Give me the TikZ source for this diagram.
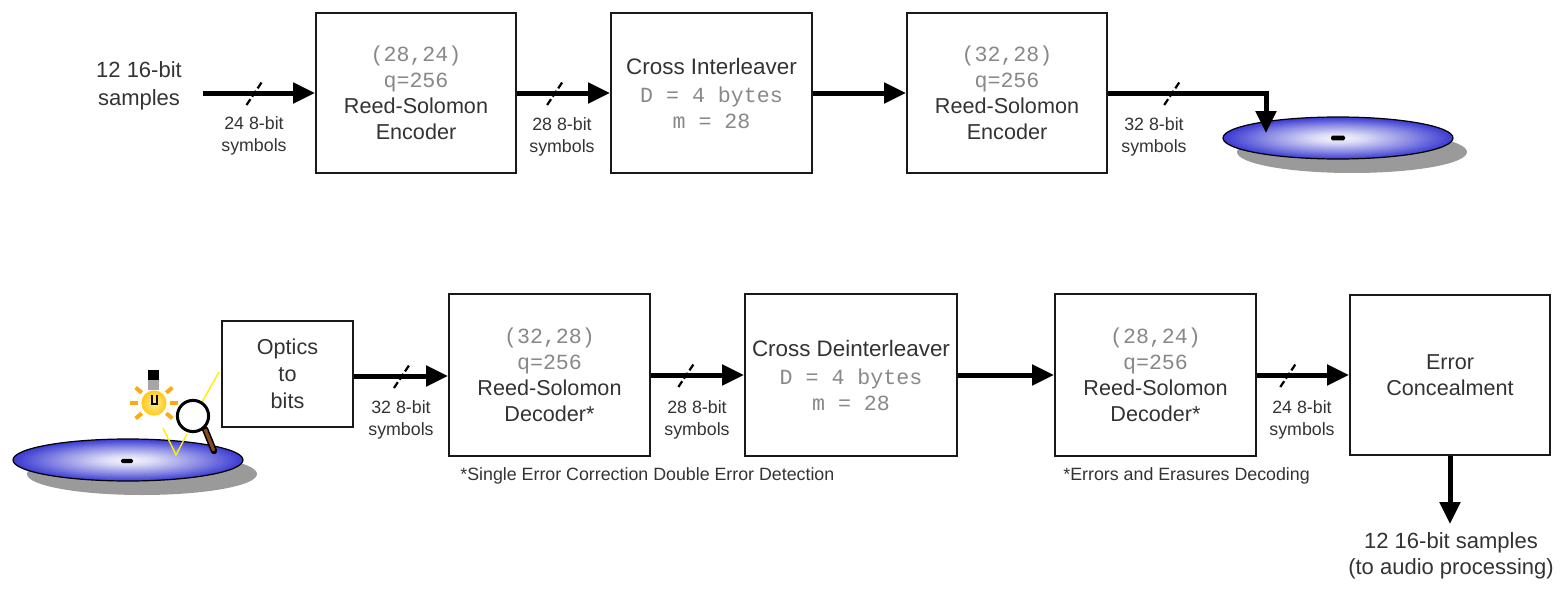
\documentclass[tikz,border=0pt]{standalone}
\usepackage{fontspec}
\setmainfont{Liberation Sans}
\setmonofont{Liberation Mono}
\usetikzlibrary{arrows.meta,shapes.geometric,calc}

\definecolor{txt}{HTML}{333333}
\definecolor{codegray}{HTML}{888888}
\definecolor{diskblue}{HTML}{3A3AD2}
\definecolor{shadowgray}{HTML}{9A9A9A}
\definecolor{bulbyellow}{HTML}{FFD21A}
\definecolor{rayorange}{HTML}{FFAA10}
\definecolor{beamyellow}{HTML}{FFF000}
\definecolor{handlebrown}{HTML}{8B4A1C}

% radial shading of the disc: pale hub fading to blue rim (rim at 25bp)
\pgfdeclareradialshading{diskshade}{\pgfpoint{0bp}{0bp}}{%
  color(0bp)=(diskblue!4!white); color(6bp)=(diskblue!20!white);
  color(16bp)=(diskblue!60!white); color(25bp)=(diskblue); color(50bp)=(diskblue)}

% parameter lines set in grey typewriter type
\newcommand\cw[1]{{\ttfamily\color{codegray}#1}}

\begin{document}
\begin{tikzpicture}[x=0.5pt,y=-0.5pt,
  block/.style={draw=black!90, line width=1pt, fill=white, align=center,
    text=txt, font=\fontsize{10.8}{13}\selectfont, inner sep=0pt},
  bus/.style={line width=2.5pt, -{Triangle[length=11pt,width=10pt]}},
  slashline/.style={line width=1.1pt, dash pattern=on 3.5pt off 1.5pt, black},
  buslabel/.style={align=center, text=txt, font=\fontsize{8.9}{11}\selectfont, inner sep=0pt},
  biglabel/.style={align=center, text=txt, font=\fontsize{11}{14}\selectfont, inner sep=0pt},
  footnote/.style={anchor=west, text=txt, font=\fontsize{8.9}{10}\selectfont, inner sep=0pt},
  disk/.style={ellipse, draw=black, line width=0.6pt, shading=diskshade,
    minimum width=115pt, minimum height=21pt, inner sep=0pt},
  diskshadow/.style={ellipse, fill=shadowgray, minimum width=115pt, minimum height=21pt, inner sep=0pt},
  hub/.style={fill=black, rounded corners=0.8pt, minimum width=7pt, minimum height=2.4pt, inner sep=0pt},
  pics/busslash/.style={code={\draw[slashline] (-8,12) -- (8,-12);}}
]
\useasboundingbox (0,0) rectangle (1564,589);

% ---------------- encoding chain ----------------
\node[biglabel] (src) at (139,86) {12 16-bit\\samples};
\coordinate (srcend) at (203,93);

\node[block, minimum width=100pt, minimum height=80pt] (enc1) at (416,93)
  {\cw{(28,24)}\\\cw{q=256}\\Reed-Solomon\\Encoder};
\node[block, minimum width=100.5pt, minimum height=80pt, font=\fontsize{11.2}{13}\selectfont] (ilv) at (711.5,93)
  {Cross Interleaver\\[1pt]{\fontsize{10.8}{13}\selectfont\cw{D = 4 bytes}}\\{\fontsize{10.8}{13}\selectfont\cw{m = 28}}};
\node[block, minimum width=100pt, minimum height=80pt] (enc2) at (1007,93)
  {\cw{(32,28)}\\\cw{q=256}\\Reed-Solomon\\Encoder};

% recording disc
\node[diskshadow] (disk1s) at (1352,152) {};
\node[disk] (disk1) at (1338,138) {};
\node[hub] (hub1) at (1338,138) {};
\coordinate (disk1in) at (1266,133);

\draw[bus] (srcend) -- coordinate[pos=0.46] (s1) (enc1.west);
\draw[bus] (enc1.east) -- coordinate[pos=0.41] (s2) (ilv.west);
\draw[bus] (ilv.east) -- (enc2.west);
\draw[bus] (enc2.east) -| coordinate[pos=0.2] (s3) (disk1in);
\pic at (s1) {busslash};
\pic at (s2) {busslash};
\pic at ($(s3)+(1,0)$) {busslash};

\node[buslabel] (l1) at (254,136) {24 8-bit\\symbols};
\node[buslabel] (l2) at (562,137) {28 8-bit\\symbols};
\node[buslabel] (l3) at (1154,137) {32 8-bit\\symbols};

% ---------------- decoding chain ----------------
\node[diskshadow] (disk2s) at (142,474) {};
\node[disk] (disk2) at (128,460) {};
\node[hub, minimum width=6pt, minimum height=2.2pt] (hub2) at (127,461) {};

% light beam reflected from the disc into the optics
\draw[beamyellow, line width=0.7pt] (163,428) -- (176,455) -- (187,434);
\draw[beamyellow, line width=0.7pt] (202,402) -- (219,372);

% lamp
\foreach \a in {0,40,140,180,220,270,320}
  \draw[rayorange, line width=2pt] ($(154,403)+(\a:16)$) -- ($(154,403)+(\a:24)$);
\fill[black] (148,370) rectangle (159,380);
\fill[black!35] (148,380) rectangle (159,390);
\shade[inner color=white!55!bulbyellow, outer color=bulbyellow!90!orange] (154,403) circle (6.3pt);
\draw[black, line width=0.6pt] (152,395) -- (152,404) -- (157,404) -- (157,395);

% magnifying glass
\draw[black, line width=3.2pt, line cap=round] (205,429) -- (214,451);
\draw[handlebrown, line width=1.6pt, line cap=round] (205.5,430) -- (213.5,450);
\draw[black, line width=1.5pt, fill=white] (193,416) circle (7.8pt);

\node[block, minimum width=65.5pt, minimum height=53pt, font=\fontsize{10.8}{13.5}\selectfont] (opt) at (287.5,374)
  {Optics\\to\\bits};
\node[block, minimum width=100.5pt, minimum height=81pt] (dec1) at (549.5,375)
  {\cw{(32,28)}\\\cw{q=256}\\Reed-Solomon\\Decoder*};
\node[block, minimum width=106pt, minimum height=81pt, font=\fontsize{11.2}{13}\selectfont] (dil) at (851,375)
  {Cross Deinterleaver\\[1pt]{\fontsize{10.8}{13}\selectfont\cw{D = 4 bytes}}\\{\fontsize{10.8}{13}\selectfont\cw{m = 28}}};
\node[block, minimum width=100.5pt, minimum height=81pt] (dec2) at (1155.5,375)
  {\cw{(28,24)}\\\cw{q=256}\\Reed-Solomon\\Decoder*};
\node[block, minimum width=100pt, minimum height=80pt] (conc) at (1450,375)
  {Error\\Concealment};

\coordinate (optout) at ($(opt.east)+(0,2)$);
\draw[bus] (optout) -- coordinate[pos=0.51] (s4) (optout -| dec1.west);
\draw[bus] (dec1.east) -- coordinate[pos=0.38] (s5) (dil.west);
\draw[bus] (dil.east) -- (dec2.west);
\draw[bus] (dec2.east) -- coordinate[pos=0.34] (s6) (conc.west);
\pic at (s4) {busslash};
\pic at (s5) {busslash};
\pic at (s6) {busslash};

\node[buslabel] (l4) at (401,420) {32 8-bit\\symbols};
\node[buslabel] (l5) at (697,420) {28 8-bit\\symbols};
\node[buslabel] (l6) at (1302,420) {24 8-bit\\symbols};

\node[footnote] (fn1) at (460,476) {*Single Error Correction Double Error Detection};
\node[footnote] (fn2) at (1063,476) {*Errors and Erasures Decoding};

\coordinate (outend) at (1450,524);
\draw[bus] (conc.south) -- (outend);
\node[biglabel, font=\fontsize{11}{12.8}\selectfont] (out) at (1451,556)
  {12 16-bit samples\\(to audio processing)};
\end{tikzpicture}
\end{document}
